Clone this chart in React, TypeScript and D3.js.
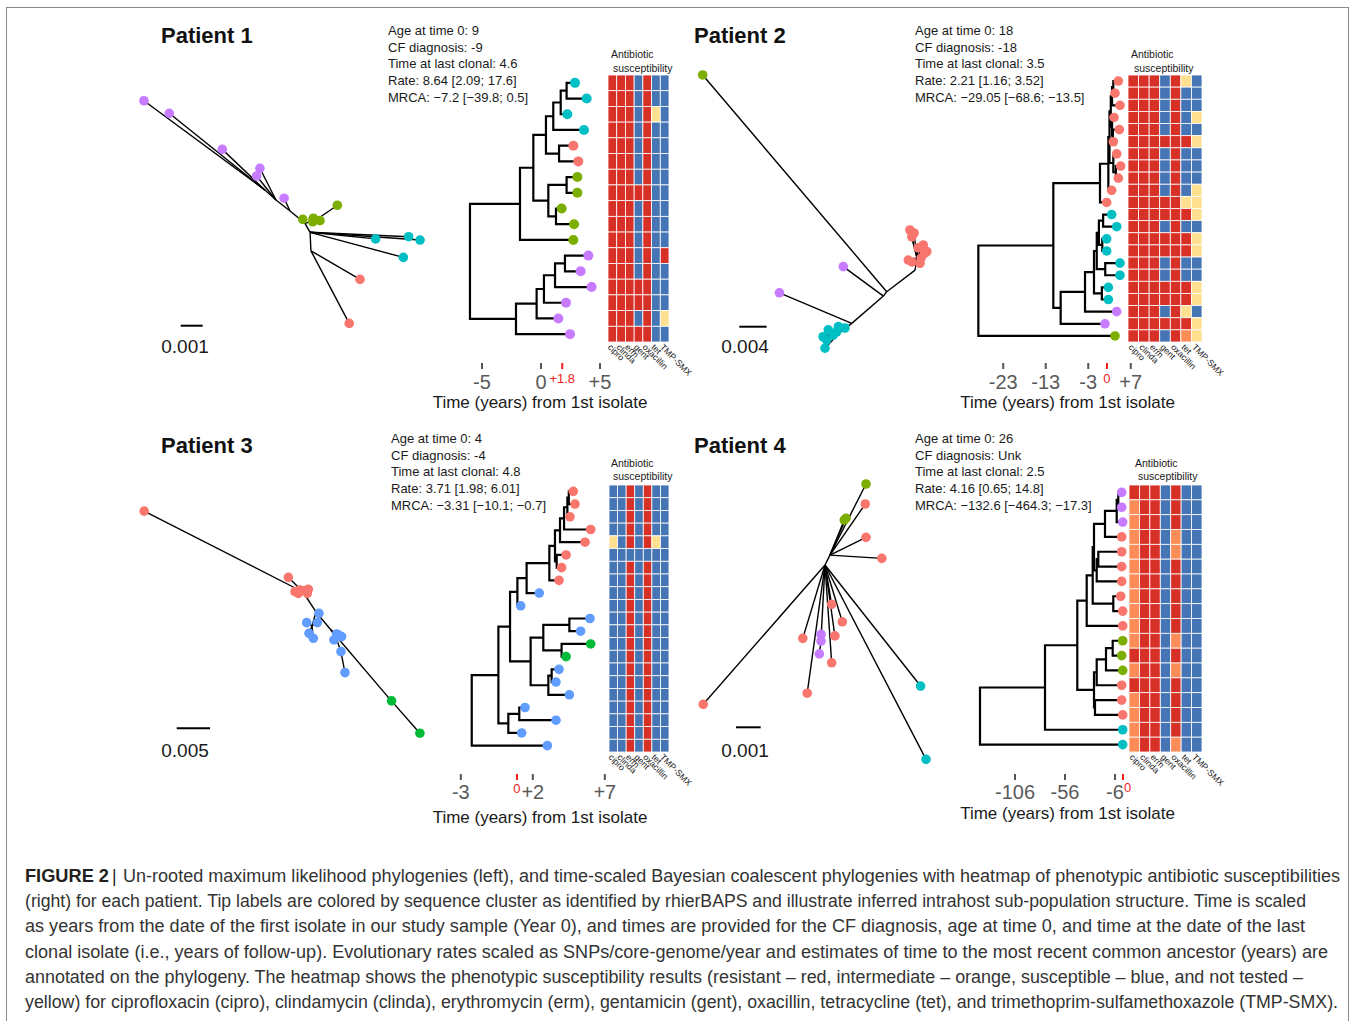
import React from "react";
import * as d3 from "d3";

type TreeNode = { t: number; g?: string; c?: TreeNode[] };
// internal node (time of split, children) and tip (time, sequence cluster)
const N = (t: number, ...c: TreeNode[]): TreeNode => ({ t, c });
const T = (t: number, g: string): TreeNode => ({ t, g });

const clusterColors: Record<string, string> = {
  p: "#C77CFF",
  s: "#F8766D",
  g: "#7CAE00",
  c: "#00BFC4",
  b: "#619CFF",
  G: "#00BA38",
};
// R resistant, O intermediate, B susceptible, Y not tested
const heatColors: Record<string, string> = { R: "#D73027", O: "#FC8D59", Y: "#FEE090", B: "#4575B4" };
const antibiotics = ["cipro", "clinda", "erm", "gent", "oxacillin", "tet", "TMP-SMX"];

const titles = ["Patient 1", "Patient 2", "Patient 3", "Patient 4"];
const info1 = ["Age at time 0: 9", "CF diagnosis: -9", "Time at last clonal: 4.6", "Rate: 8.64 [2.09; 17.6]", "MRCA: \u22127.2 [\u221239.8; 0.5]"];
const info2 = ["Age at time 0: 18", "CF diagnosis: -18", "Time at last clonal: 3.5", "Rate: 2.21 [1.16; 3.52]", "MRCA: \u221229.05 [\u221268.6; \u221213.5]"];
const info3 = ["Age at time 0: 4", "CF diagnosis: -4", "Time at last clonal: 4.8", "Rate: 3.71 [1.98; 6.01]", "MRCA: \u22123.31 [\u221210.1; \u22120.7]"];
const info4 = ["Age at time 0: 26", "CF diagnosis: Unk", "Time at last clonal: 2.5", "Rate: 4.16 [0.65; 14.8]", "MRCA: \u2212132.6 [\u2212464.3; \u221217.3]"];

// time-scaled trees (years on the panel axis)
const tree1 = N(-6.02,
  N(-1.78,
    N(-0.65,
      N(0.42,
        N(1.04,
          N(1.67, N(2.17, T(2.88, "c"), T(3.87, "c")), T(2.23, "c")),
          T(3.64, "c")),
        N(1.53, T(2.74, "s"), T(3.16, "s"))),
      N(0.62,
        N(2.17, T(3.08, "g"), T(3.08, "g")),
        N(1.27, T(1.75, "g"), T(2.8, "g")))),
    T(2.74, "g")),
  N(-2.12,
    N(-0.37,
      N(0.25,
        N(1.19, N(2.03, T(4.01, "p"), T(3.36, "p")), T(4.29, "p")),
        T(2.12, "p")),
      T(1.47, "p")),
    T(2.46, "p")));

const tree2 = N(-28.86,
  N(-11.22,
    N(-0.24,
      N(1.73,
        N(2.0,
          N(2.3,
            N(2.6, N(2.9, T(4.08, "s"), T(3.29, "s")), T(4.47, "s")),
            N(2.6, T(3.06, "s"), N(2.8, T(4.31, "s"), T(2.9, "s")))),
          N(2.9, T(3.69, "s"), N(3.5, T(4.63, "s"), T(4.08, "s")))),
        T(2.51, "s")),
      T(1.33, "s")),
    N(-9.49,
      N(-3.76,
        N(-1.65,
          N(-1.0,
            N(-0.5, N(0.5, T(2.51, "c"), T(3.69, "c")), N(0.3, T(1.33, "c"), T(1.33, "c"))),
            N(1.0, T(4.47, "c"), T(4.47, "c"))),
          N(0.2, T(1.73, "c"), T(1.73, "c"))),
        T(3.69, "p")),
      T(0.94, "p"))),
  T(3.29, "g"));

const tree3 = N(-2.24,
  N(-0.39,
    N(0.42,
      N(0.93,
        N(1.57,
          N(3.15,
            N(3.54,
              N(3.89,
                N(4.17,
                  N(4.4, N(4.5, T(4.81, "s"), T(4.93, "s")), T(4.58, "s")),
                  T(6.02, "s")),
                T(5.63, "s")),
              N(3.66, T(4.31, "s"), T(4.0, "s"))),
            T(3.82, "s")),
          T(2.45, "b")),
        T(1.16, "b")),
      N(1.85,
        N(2.73,
          N(4.54, T(5.97, "b"), T(5.32, "b")),
          N(4.0, T(6.02, "G"), T(4.31, "G"))),
        N(3.08,
          N(3.31, T(3.82, "b"), T(3.61, "b")),
          T(4.54, "b")))),
    N(0.3,
      N(1.06, T(1.46, "b"), T(3.61, "b")),
      T(1.23, "b"))),
  T(3.01, "b"));

const tree4 = N(-141,
  N(-76,
    N(-43.7,
      N(-34.3,
        N(-28.3,
          N(-27,
            N(-16, N(-4.3, N(-2.7, T(0.7, "p"), T(0.7, "p")), T(1.7, "p")), T(0.7, "s")),
            N(-24.3, N(-22.7, T(0.7, "s"), T(0.7, "s")), T(0.7, "s"))),
          N(-7.7, T(-0.3, "s"), T(1.7, "s"))),
        T(1.7, "s")),
      N(-27,
        N(-24.3, N(-15, N(-8.3, T(1.7, "g"), T(0.7, "g")), T(1.7, "g")), T(0.7, "s")),
        N(-26, T(0.7, "s"), T(1.7, "s")))),
    T(1.7, "c")),
  T(1.7, "c"));

const heat1 = [
  "RRRBRBB", "RRRBRBB", "RRRBRYB", "RRRBRBB", "RRRBRBB", "RRRBRBB", "RRRBRBB", "RRRRRBB", "RRRBRBB",
  "RRRBRBB", "RRRBRBB", "RRRBRBR", "RRRBRBB", "RRRRRBB", "RRRRRBB", "RRRBRBY", "RRRRRBB",
];
const heat2 = [
  "RRRBRYB", "RRRBRBB", "RRRBRBB", "RRRBRBY", "RRRBRBB", "RRRRRRY", "RRRBRBB", "RRRBRBB", "RRRBRBB",
  "RRRBRBY", "RRRRRYY", "RRRRRRY", "RRRBRBB", "RRRRRRY", "RRRRRRY", "RRRBRBB", "RRRBRBB", "RRRRRRY",
  "RRRRRRY", "RRRBRYB", "RRRRRRY", "RRRBROY",
];
const heat3 = [
  "BBRBRBB", "BBRBRBB", "BBRBRBB", "BBRBRBB", "YBRBRYB", "BBBBBBB", "BBRBRBB", "BBRBRBB", "BBRBRBB",
  "BBRBRBB", "BBRBRBB", "BBRBRBB", "BBRBRBB", "BBRBRBB", "BBRBRBB", "BBRBRBB", "BBRBRBB", "BBRBRBB",
  "BBRBRBB", "BBRBRBB", "BBRBRBB",
];
const heat4 = [
  "RRRBRBB", "ORRBRBB", "ORRBRBB", "ORRBOBB", "ORRBOBB", "ORRBRBB", "ORRBRBB", "ORRBRBB", "ORRBRBB",
  "ORRBRBB", "ORRBOBB", "RRRBRBB", "ORRBOBB", "RRRBRBB", "ORRBRBB", "ORRBRBB", "ORRBRBB", "ORRBOBB",
];

const ticks1 = [-5, 0, 5];
const ticks2 = [-23, -13, -3, 7];
const ticks3 = [-3, 2, 7];
const ticks4 = [-106, -56, -6];
const tickLabels1 = ["-5", "0", "+5"];
const tickLabels2 = ["-23", "-13", "-3", "+7"];
const tickLabels3 = ["-3", "+2", "+7"];
const tickLabels4 = ["-106", "-56", "-6"];
const redTicks = [1.8, 1.4, 0.9, 2];
const redLabels = ["+1.8", "0", "0", "0"];

// un-rooted ML trees: [id, parent, x, y, cluster], in units of the scale bar
type UNode = [string, string | null, number, number, string?];
const unrooted1: UNode[] = [
  ["c", null, 0, 0], ["n1", "c", 0.23, 0.41], ["n2", "n1", 0.27, 1.25],
  ["pj1", "c", -0.68, -0.56], ["pj2", "pj1", -1.32, -1.06], ["pj3", "pj2", -1.82, -1.51], ["gj", "c", 0.5, -0.15],
  ["p1", "pj3", -7.32, -5.57, "p"], ["p2", "pj3", -6.17, -5.0, "p"], ["p3", "pj3", -3.76, -3.36, "p"],
  ["p4", "pj2", -2.05, -2.5, "p"], ["p5", "pj2", -2.2, -2.15, "p"], ["p6", "pj1", -0.95, -1.14, "p"],
  ["g1", "c", -0.1, -0.18, "g"], ["g2", "gj", 0.38, -0.23, "g"], ["g3", "gj", 0.68, -0.12, "g"],
  ["g4", "gj", 1.47, -0.82, "g"], ["g5", "gj", 0.35, -0.07, "g"],
  ["c1", "n1", 3.21, 0.71, "c"], ["c2", "n1", 4.71, 0.61, "c"], ["c3", "n1", 5.23, 0.76, "c"], ["c4", "n1", 4.47, 1.55, "c"],
  ["s1", "n2", 2.5, 2.55, "s"], ["s2", "n2", 2.01, 4.55, "s"],
];
const unrooted2: UNode[] = [
  ["mj", null, 0, 0], ["j2", "mj", -0.12, 0.16], ["j3", "j2", -1.28, 1.16], ["cj", "j3", -1.71, 1.48],
  ["sj", "mj", 1.04, -0.79], ["ssj", "sj", 1.11, -1.24],
  ["g1", "mj", -6.74, -7.94, "g"], ["p1", "j2", -1.59, -0.92, "p"], ["p2", "j3", -3.93, 0.04, "p"],
  ["c1", "cj", -2.14, 1.4, "c"], ["c2", "cj", -1.77, 1.28, "c"], ["c3", "cj", -2.2, 1.77, "c"], ["c4", "cj", -1.96, 1.59, "c"],
  ["c5", "cj", -2.26, 2.07, "c"], ["c6", "cj", -2.33, 1.65, "c"], ["c7", "cj", -1.83, 1.47, "c"], ["c8", "cj", -1.53, 1.33, "c"],
  ["s1", "ssj", 0.85, -2.26, "s"], ["s2", "ssj", 0.92, -2.01, "s"], ["s3", "ssj", 1.34, -1.71, "s"], ["s4", "ssj", 1.47, -1.47, "s"],
  ["s5", "ssj", 0.79, -1.16, "s"], ["s6", "ssj", 1.22, -1.04, "s"], ["s7", "ssj", 1.4, -1.41, "s"], ["s8", "ssj", 0.93, -1.09, "s"],
  ["s9", "ssj", 1.15, -1.61, "s"], ["s10", "ssj", 1.26, -1.23, "s"], ["s11", "ssj", 1.0, -2.15, "s"],
];
const unrooted3: UNode[] = [
  ["sj", null, 0, 0], ["s0", "sj", -4.77, -2.43, "s"],
  ["s1", "sj", -0.44, -0.44, "s"], ["s2", "sj", -0.24, -0.01, "s"], ["s3", "sj", -0.09, -0.06, "s"], ["s4", "sj", 0.06, -0.04, "s"],
  ["s5", "sj", 0.13, 0.04, "s"], ["s6", "sj", -0.14, 0.04, "s"], ["s7", "sj", 0.16, -0.08, "s"],
  ["b1j", "sj", 0.39, 0.6], ["b1s", "b1j", 0.27, 1.02],
  ["b1", "b1j", 0.48, 0.64, "b"], ["b2", "b1s", 0.11, 0.92, "b"], ["b3", "b1s", 0.43, 0.92, "b"], ["b4", "b1s", 0.18, 1.24, "b"], ["b5", "b1s", 0.31, 1.39, "b"],
  ["b2j", "b1j", 0.84, 1.14], ["b2s", "b2j", 1.02, 1.44],
  ["b6", "b2j", 1.01, 1.26, "b"], ["b7", "b2s", 1.16, 1.34, "b"], ["b8", "b2s", 0.93, 1.44, "b"], ["b9", "b2s", 1.06, 1.29, "b"],
  ["b10", "b2s", 1.14, 1.79, "b"], ["b11", "b10", 1.26, 2.42, "b"],
  ["gj", "b2j", 2.55, 3.15], ["G1", "gj", 2.66, 3.27, "G"], ["G2", "gj", 3.51, 4.24, "G"],
];
const unrooted4: UNode[] = [
  ["c", null, 0, 0], ["uj", "c", 0.2, -0.4],
  ["gt", "uj", 1.66, -3.28, "g"], ["s1", "uj", 1.63, -2.47, "s"], ["g2", "uj", 0.78, -1.82, "g"], ["g3", "uj", 0.85, -1.89, "g"],
  ["s2", "uj", 1.66, -1.12, "s"], ["s3", "uj", 2.3, -0.27, "s"],
  ["s4", "c", -4.93, 5.64, "s"], ["s5", "c", 0.27, 1.59, "s"], ["s6", "c", 0.7, 2.3, "s"], ["s7", "c", 0.4, 2.87, "s"],
  ["s8", "c", 0.27, 3.96, "s"], ["s9", "c", -0.9, 2.97, "s"], ["s10", "c", -0.72, 5.19, "s"],
  ["pj", "c", -0.14, 2.6], ["p1", "pj", -0.16, 2.81, "p"], ["p2", "pj", -0.16, 3.08, "p"], ["p3", "p2", -0.23, 3.6, "p"],
  ["c1", "c", 3.87, 4.9, "c"], ["c2", "c", 4.09, 7.87, "c"],
];
const scaleBarLabels = ["0.001", "0.004", "0.005", "0.001"];

const captionLines = [
  "Un-rooted maximum likelihood phylogenies (left), and time-scaled Bayesian coalescent phylogenies with heatmap of phenotypic antibiotic susceptibilities",
  "(right) for each patient. Tip labels are colored by sequence cluster as identified by rhierBAPS and illustrate inferred intrahost sub-population structure. Time is scaled",
  "as years from the date of the first isolate in our study sample (Year 0), and times are provided for the CF diagnosis, age at time 0, and time at the date of the last",
  "clonal isolate (i.e., years of follow-up). Evolutionary rates scaled as SNPs/core-genome/year and estimates of time to the most recent common ancestor (years) are",
  "annotated on the phylogeny. The heatmap shows the phenotypic susceptibility results (resistant \u2013 red, intermediate \u2013 orange, susceptible \u2013 blue, and not tested \u2013",
  "yellow) for ciprofloxacin (cipro), clindamycin (clinda), erythromycin (erm), gentamicin (gent), oxacillin, tetracycline (tet), and trimethoprim-sulfamethoxazole (TMP-SMX).",
];

const trees = [tree1, tree2, tree3, tree4];
const heats = [heat1, heat2, heat3, heat4];
const infos = [info1, info2, info3, info4];
const ticks = [ticks1, ticks2, ticks3, ticks4];
const tickLabels = [tickLabels1, tickLabels2, tickLabels3, tickLabels4];
const unrooted = [unrooted1, unrooted2, unrooted3, unrooted4];

const FONT = "'Liberation Sans', Arial, Helvetica, sans-serif";
const RED = "#EE1C1C";

// page positions of each panel part
const layouts = [
  { title: [161, 43], info: [388, 35], ur: [305, 223.3, 22], sb: [180.7, 325.7, 185, 353], x0: 541, ppy: 11.8,
    hx: [608, 669], hy: [75, 342], hdr: [611, 58, 613, 72], tk: [363, 369], tl: 389, rl: 383, ra: "middle", ax: [540, 408] },
  { title: [694, 43], info: [915, 35], ur: [886.7, 291.7, 27.3], sb: [739.3, 326.7, 745, 353], x0: 1101, ppy: 4.25,
    hx: [1128, 1202], hy: [75, 342], hdr: [1131, 58, 1134, 72], tk: [363, 369], tl: 389, rl: 383, ra: "middle", ax: [1067.5, 408] },
  { title: [161, 453], info: [391, 443], ur: [303, 592, 33.3], sb: [176.7, 728.3, 185, 757], x0: 504, ppy: 14.4,
    hx: [609, 669], hy: [485, 752], hdr: [611, 467, 613, 480], tk: [774, 780], tl: 799, rl: 793, ra: "middle", ax: [540, 823] },
  { title: [694, 453], info: [915, 443], ur: [825, 565, 24.7], sb: [736, 727.3, 745, 757], x0: 1121, ppy: 1,
    hx: [1129, 1202], hy: [485, 752], hdr: [1135, 467, 1138, 480], tk: [774, 780], tl: 799, rl: 792, ra: "start", ax: [1067.5, 819] },
];

function Unrooted({ nodes, L, label }: { nodes: UNode[]; L: any; label: string }) {
  const [ox, oy, bar] = L.ur;
  const sx = d3.scaleLinear().domain([0, 1]).range([ox, ox + bar]);
  const sy = d3.scaleLinear().domain([0, 1]).range([oy, oy + bar]);
  const byId = new Map(nodes.map((n) => [n[0], n]));
  const bx = d3.scaleLinear().domain([0, 1]).range([L.sb[0], L.sb[0] + bar]);
  return (
    <g>
      {nodes.filter((n) => n[1]).map((n) => {
        const p = byId.get(n[1] as string)!;
        return <line key={"e" + n[0]} x1={sx(p[2])} y1={sy(p[3])} x2={sx(n[2])} y2={sy(n[3])} stroke="#000" strokeWidth={1.4} />;
      })}
      {nodes.filter((n) => n[4]).map((n) => (
        <circle key={"t" + n[0]} cx={sx(n[2])} cy={sy(n[3])} r={4.8} fill={clusterColors[n[4] as string]} />
      ))}
      <line x1={bx(0)} x2={bx(1)} y1={L.sb[1]} y2={L.sb[1]} stroke="#000" strokeWidth={2} />
      <text x={L.sb[2]} y={L.sb[3]} textAnchor="middle" fontSize={19} fill="#1a1a1a">{label}</text>
    </g>
  );
}

function TimeTree({ i, L }: { i: number; L: any }) {
  const heat = heats[i];
  const x = d3.scaleLinear().domain([0, 1]).range([L.x0, L.x0 + L.ppy]);
  const rows = d3.scaleBand<number>().domain(d3.range(heat.length)).range(L.hy);
  const cols = d3.scaleBand<string>().domain(antibiotics).range(L.hx);
  const root: any = d3.hierarchy(trees[i], (d) => d.c);
  root.leaves().forEach((l: any, k: number) => (l.py = rows(k)! + rows.bandwidth() / 2));
  root.eachAfter((n: any) => {
    if (n.children) n.py = (n.children[0].py + n.children[n.children.length - 1].py) / 2;
  });
  const paths = root.descendants().map((n: any) => {
    let d = "";
    if (n.parent) d += `M${x(n.parent.data.t)},${n.py}H${x(n.data.t)}`;
    if (n.children) d += `M${x(n.data.t)},${n.children[0].py}V${n.children[n.children.length - 1].py}`;
    return d;
  }).join("");
  const bottom = L.hy[1];
  const rx = x(redTicks[i]) + (L.ra === "start" ? 1 : 0);
  return (
    <g>
      <path d={paths} fill="none" stroke="#000" strokeWidth={2.2} strokeLinecap="square" />
      {root.leaves().map((l: any, k: number) => (
        <circle key={k} cx={x(l.data.t)} cy={l.py} r={i === 0 ? 5 : 4.8} fill={clusterColors[l.data.g]} />
      ))}
      {heat.map((row, r) =>
        row.split("").map((k, c) => (
          <rect key={r + "-" + c} x={cols(antibiotics[c])} y={rows(r)} width={cols.bandwidth()} height={rows.bandwidth()}
            fill={heatColors[k]} stroke="#fff" strokeWidth={0.8} />
        ))
      )}
      {antibiotics.map((a) => (
        <text key={a} transform={`translate(${cols(a)! + cols.bandwidth() / 2},${bottom + 2}) rotate(45)`} x={-1} dy="0.72em"
          fontSize={8.8} fill="#1a1a1a">{a}</text>
      ))}
      <text x={L.hdr[0]} y={L.hdr[1]} fontSize={10.5} fill="#1a1a1a">Antibiotic</text>
      <text x={L.hdr[2]} y={L.hdr[3]} fontSize={10.5} fill="#1a1a1a">susceptibility</text>
      {ticks[i].map((v, k) => (
        <g key={v}>
          <line x1={x(v)} x2={x(v)} y1={L.tk[0]} y2={L.tk[1]} stroke="#555" strokeWidth={2} />
          <text x={x(v)} y={L.tl} textAnchor="middle" fontSize={20} fill="#5a5a5a">{tickLabels[i][k]}</text>
        </g>
      ))}
      <line x1={x(redTicks[i])} x2={x(redTicks[i])} y1={L.tk[0]} y2={L.tk[1]} stroke={RED} strokeWidth={2} />
      <text x={rx} y={L.rl} textAnchor={L.ra} fontSize={13} fill={RED}>{redLabels[i]}</text>
      <text x={L.ax[0]} y={L.ax[1]} textAnchor="middle" fontSize={17} fill="#1a1a1a">Time (years) from 1st isolate</text>
    </g>
  );
}

const captionEnds = [1340, 1306, 1305, 1328, 1303, 1338];

export default function App() {
  return (
    <svg width={1355} height={1021} style={{ position: "absolute", left: 0, top: 0, background: "#fff" }} fontFamily={FONT}>
      <rect x={6.5} y={7.5} width={1342} height={1020} fill="#fff" stroke="#8a8a8a" strokeWidth={1} />
      {layouts.map((L, i) => (
        <g key={i}>
          <text x={L.title[0]} y={L.title[1]} fontSize={22} fontWeight="bold" fill="#111">{titles[i]}</text>
          {infos[i].map((s, k) => (
            <text key={k} x={L.info[0]} y={L.info[1] + k * 16.7} fontSize={13} fill="#1a1a1a">{s}</text>
          ))}
          <Unrooted nodes={unrooted[i]} L={L} label={scaleBarLabels[i]} />
          <TimeTree i={i} L={L} />
        </g>
      ))}
      <text x={25} y={882} fontSize={17.5} fontWeight="bold" fill="#231f20" textLength={84} lengthAdjust="spacingAndGlyphs">FIGURE 2</text>
      <text x={112} y={882} fontSize={17.5} fill="#231f20">|</text>
      {captionLines.map((s, k) => {
        const x0 = k === 0 ? 123 : 25;
        return (
          <text key={k} x={x0} y={882 + k * 25.2} fontSize={17.5} fill="#333" textLength={captionEnds[k] - x0}
            lengthAdjust="spacingAndGlyphs">{s}</text>
        );
      })}
    </svg>
  );
}
